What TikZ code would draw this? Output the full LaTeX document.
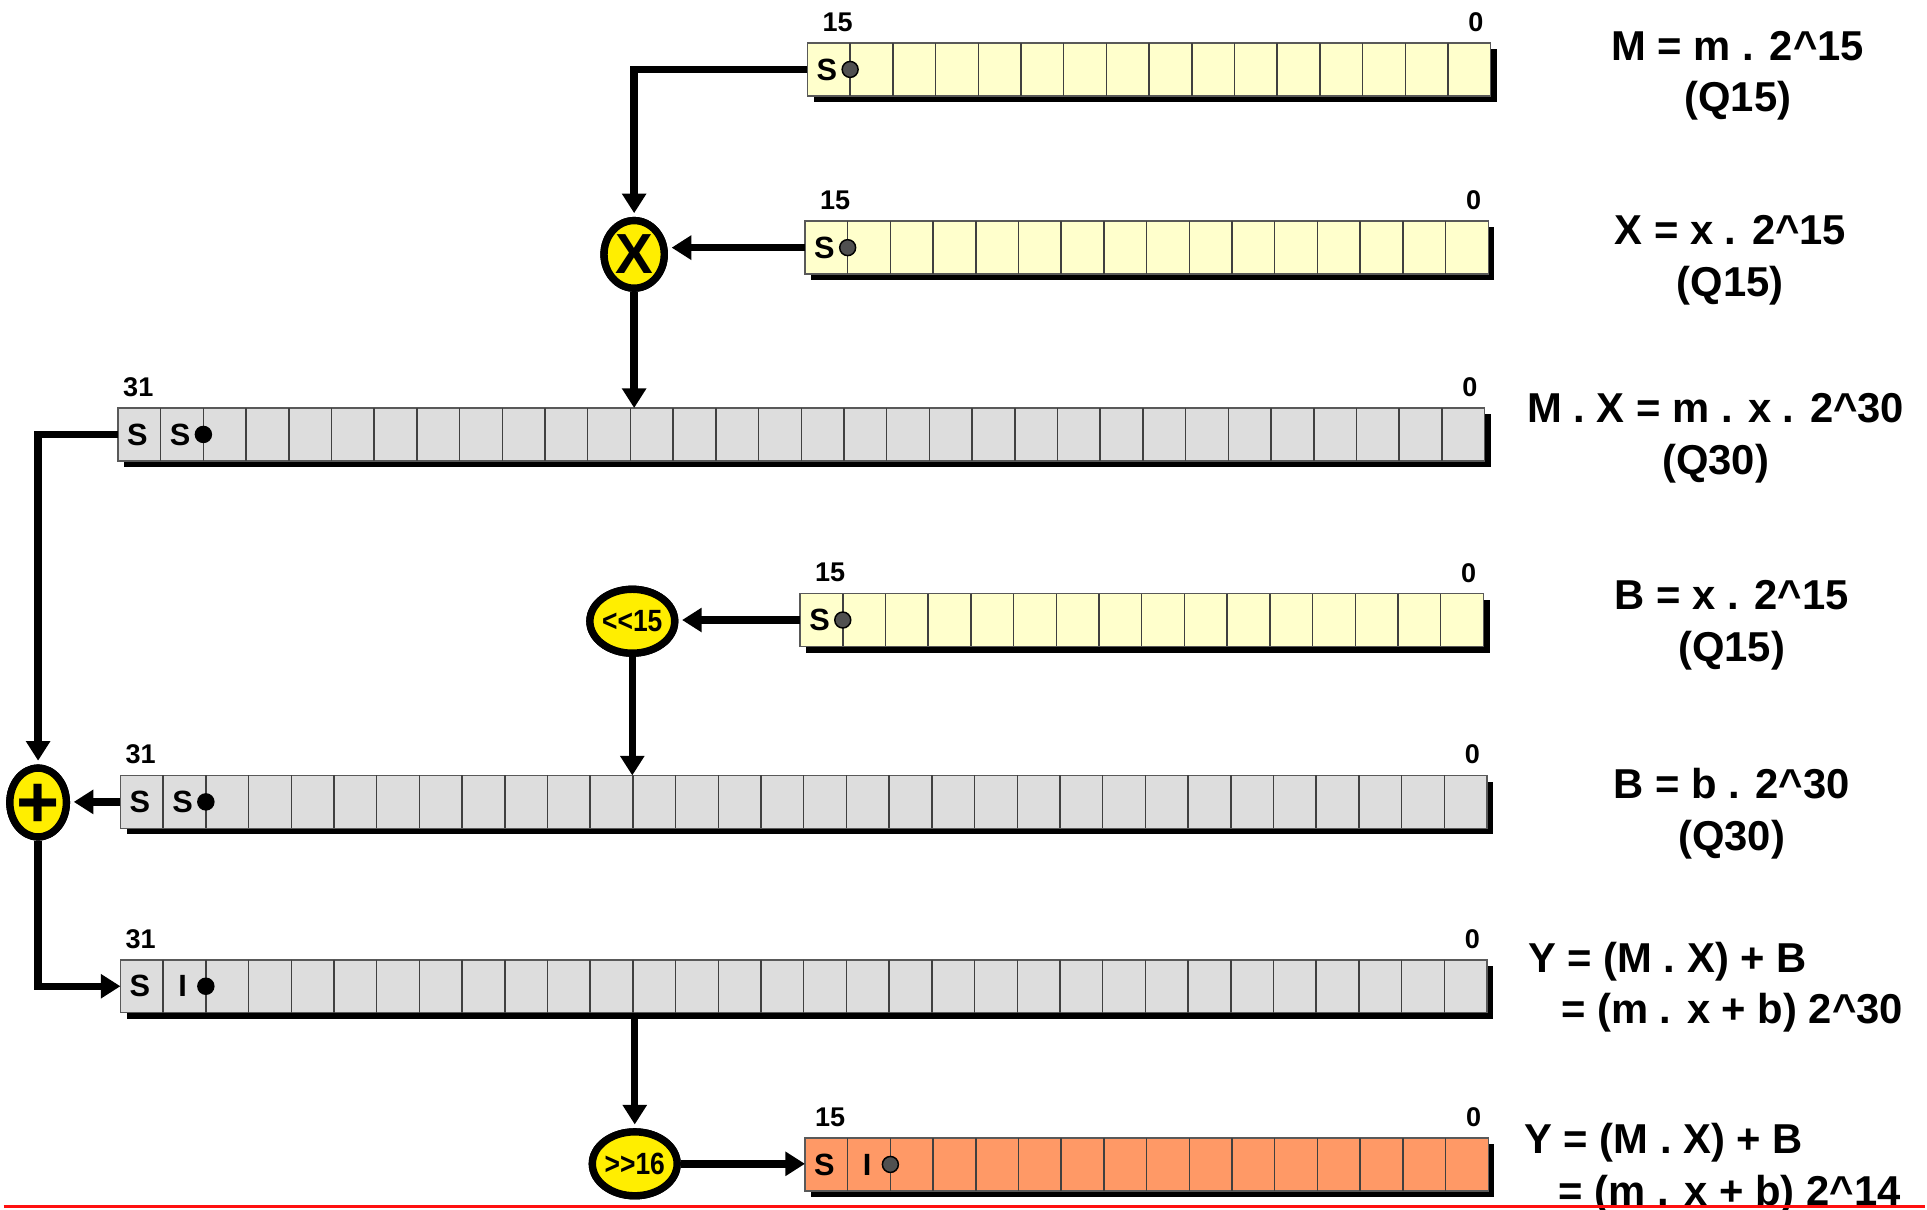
\documentclass[tikz,border=0pt]{standalone}
\usepackage{fontspec}
\usepackage{graphicx}
\setmainfont{Liberation Sans}
\usetikzlibrary{arrows.meta,shapes.geometric,calc}

\definecolor{regyellow}{HTML}{FFFFCC}
\definecolor{reggray}{HTML}{DDDDDD}
\definecolor{regorange}{HTML}{FF9966}
\definecolor{opyellow}{HTML}{FFEE00}
\definecolor{dotgray}{HTML}{505050}
\definecolor{rulered}{HTML}{FF1010}

% width of one bit cell
\newcommand{\cellw}{34.75}

% register: name, left, top, bits, fill, msb index, x offset of msb index
\newcommand{\bitreg}[7]{%
  \pgfmathsetmacro{\regw}{#4*\cellw}%
  \pgfmathtruncatemacro{\lastcell}{#4-1}%
  \fill[black] (#2+5,#3+5) rectangle (#2+\regw+5,#3+48);%
  \node[regbox,fill=#5,minimum width=\regw*0.5pt] (#1) at (#2,#3) {};%
  \foreach \k in {1,...,\lastcell}{%
    \draw[cellline] ([xshift=\k*\cellw*0.5pt]#1.north west) -- ([xshift=\k*\cellw*0.5pt]#1.south west);}%
  \node[bitidx] (#1-hi) at ($(#1.north west)+(#7,-17)$) {#6};%
  \node[bitidx] (#1-lo) at ($(#1.north east)+(-12,-17)$) {0};%
}
% letter in a cell: register, cell number, text
\newcommand{\bitchar}[3]{%
  \node[bitletter] (#1-c#2) at ($(#1.north west)+({(#2-0.5)*\cellw-1.5},21.5)$) {#3};}
% binary point after a cell: register, cell number, fill
\newcommand{\bitpoint}[3]{%
  \node[binpoint,fill=#3] (#1-pt) at ($(#1.north west)+({#2*\cellw},21.5)$) {};}
% narrow bold operator text
\newcommand{\optxt}[1]{\scalebox{0.86}[1]{#1}}

\tikzset{
  regbox/.style={draw=gray!70!black, line width=0.6pt, anchor=north west,
    inner sep=0pt, outer sep=0pt, minimum height=21.5pt},
  cellline/.style={draw=black!75, line width=0.6pt},
  bitidx/.style={font=\fontsize{11}{13}\selectfont\bfseries, inner sep=0pt},
  bitletter/.style={font=\fontsize{12.5}{14}\selectfont\bfseries, inner sep=0pt},
  binpoint/.style={circle, draw=black, line width=0.6pt, minimum size=6.5pt, inner sep=0pt},
  conn/.style={line width=3pt, -{Triangle[length=8pt,width=9.5pt]}},
  toop/.style={conn, shorten >=1.5pt},
  op/.style={ellipse, draw=black, line width=3pt, fill=opyellow, inner sep=0pt},
  mulop/.style={op, minimum width=24.5pt, minimum height=27.5pt},
  shiftop/.style={op, minimum width=34.5pt, minimum height=26pt},
  addop/.style={op, minimum width=23pt, minimum height=28pt},
  optext/.style={inner sep=0pt, font=\bfseries},
  eq/.style={font=\fontsize{17}{20}\selectfont\bfseries, anchor=base, inner sep=0pt},
  eqw/.style={eq, anchor=base west},
}

\begin{document}
\begin{tikzpicture}[x=0.5pt, y=-0.5pt]
  \useasboundingbox (0,0) rectangle (1568,984);

  % registers
  \bitreg{Mreg}{657}{35}{16}{regyellow}{15}{24.5}
  \bitreg{Xreg}{655}{180}{16}{regyellow}{15}{24.5}
  \bitreg{MXreg}{96}{332}{32}{reggray}{31}{16.5}
  \bitreg{Breg}{651}{483}{16}{regyellow}{15}{24.5}
  \bitreg{Bbreg}{98}{631}{32}{reggray}{31}{16.5}
  \bitreg{Yreg}{98}{781}{32}{reggray}{31}{16.5}
  \bitreg{Yqreg}{655}{926}{16}{regorange}{15}{20.5}

  % sign / integer bits and binary points
  \bitchar{Mreg}{1}{S}    \bitpoint{Mreg}{1}{dotgray}
  \bitchar{Xreg}{1}{S}    \bitpoint{Xreg}{1}{dotgray}
  \bitchar{MXreg}{1}{S}   \bitchar{MXreg}{2}{S}  \bitpoint{MXreg}{2}{black}
  \bitchar{Breg}{1}{S}    \bitpoint{Breg}{1}{dotgray}
  \bitchar{Bbreg}{1}{S}   \bitchar{Bbreg}{2}{S}  \bitpoint{Bbreg}{2}{black}
  \bitchar{Yreg}{1}{S}    \bitchar{Yreg}{2}{I}   \bitpoint{Yreg}{2}{black}
  \bitchar{Yqreg}{1}{S}   \bitchar{Yqreg}{2}{I}  \bitpoint{Yqreg}{2}{dotgray}

  % operator outlines
  \node[mulop] (mul) at (516,207) {};
  \node[shiftop] (shl) at (514.5,505.5) {};
  \node[addop] (add) at (31,653) {};
  \node[shiftop] (shr) at (516.5,947) {};

  % data flow
  \draw[toop] (Mreg.west) -| (mul.north);
  \draw[toop] (Xreg.west) -- (Xreg.west -| mul.east);
  \draw[conn] (mul.south) -- (mul.south |- MXreg.north);
  \draw[toop] (MXreg.west) -| (add.north);
  \draw[toop] (Breg.west) -- (Breg.west -| shl.east);
  \draw[conn] (shl.south) -- (shl.south |- Bbreg.north);
  \draw[toop] (Bbreg.west) -- (Bbreg.west -| add.east);
  \draw[conn] (add.south) |- (Yreg.west);
  \draw[toop] (Yreg.south -| shr.north) -- (shr.north);
  \draw[conn] (shr.east) -- (shr.east -| Yqreg.west);

  % operators drawn over the line starts, with their symbols
  \node[mulop] (mulf) at (mul) {};
  \node[shiftop] (shlf) at (shl) {};
  \node[addop] (addf) at (add) {};
  \node[shiftop] (shrf) at (shr) {};
  \node[optext, font=\fontsize{23}{23}\selectfont\bfseries] (mul-t) at (mul) {X};
  \node[optext, font=\fontsize{12.5}{13}\selectfont\bfseries] (shl-t) at (shl) {\optxt{<\kern0pt<15}};
  \node[optext, font=\fontsize{30}{30}\selectfont\bfseries, yshift=-1.3pt] (add-t) at (add) {+};
  \node[optext, font=\fontsize{12.5}{13}\selectfont\bfseries] (shr-t) at (shr) {\optxt{>\kern0pt>16}};

  % formats
  \node[eq] (lM1) at (1414,49) {M = m . 2\textasciicircum 15};
  \node[eq] (lM2) at (1414,91) {(Q15)};
  \node[eq] (lX1) at (1408,199) {X = x . 2\textasciicircum 15};
  \node[eq] (lX2) at (1408,241) {(Q15)};
  \node[eq] (lMX1) at (1396,344) {M . X = m . x . 2\textasciicircum 30};
  \node[eq] (lMX2) at (1396,386) {(Q30)};
  \node[eq] (lB1) at (1409,496) {B = x . 2\textasciicircum 15};
  \node[eq] (lB2) at (1409,538) {(Q15)};
  \node[eq] (lBb1) at (1409,650) {B = b . 2\textasciicircum 30};
  \node[eq] (lBb2) at (1409,692) {(Q30)};
  \node[eqw] (lY1) at (1243,791) {Y = (M . X) + B};
  \node[eqw] (lY2) at (1270,833) {= (m . x + b) 2\textasciicircum 30};
  \node[eqw] (lYq1) at (1240,939) {Y = (M . X) + B};
  \node[eqw] (lYq2) at (1268,981) {= (m . x + b) 2\textasciicircum 14};

  % rule along the lower edge
  \draw[rulered, line width=1.2pt] (3,982) -- (1566,982);
\end{tikzpicture}
\end{document}
